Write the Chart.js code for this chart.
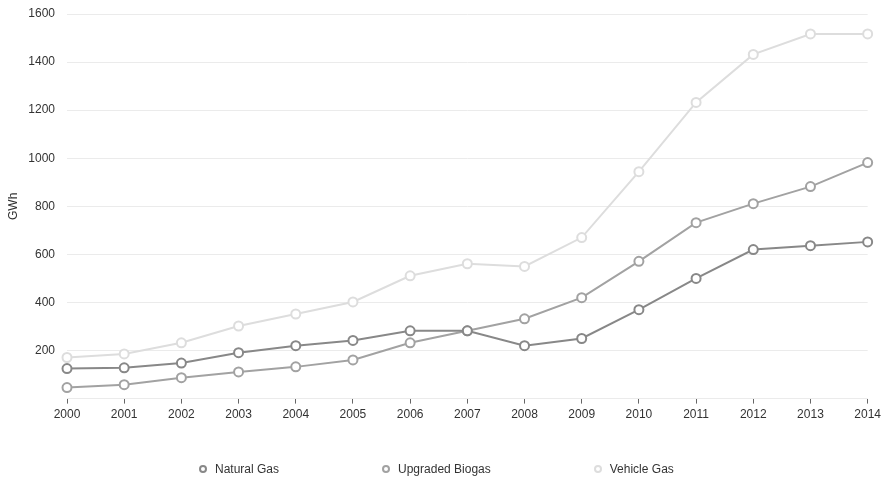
<!DOCTYPE html>
<html>
<head>
<meta charset="utf-8">
<script src="https://cdn.jsdelivr.net/npm/chart.js@4/dist/chart.umd.min.js"></script>
<style>
  html, body { margin: 0; padding: 0; background: #fff; }
  #wrap { position: relative; width: 885px; height: 480px; }
  #legend {
    position: absolute; left: 199px; top: 462px;
    display: flex; gap: 103px;
    font: 12px "Liberation Sans", Arial, sans-serif; color: #333;
  }
  #legend .item { display: flex; align-items: center; white-space: nowrap; }
  #legend .dot {
    width: 4px; height: 4px; border-radius: 50%;
    border: 2px solid #888; background: #fff; margin-right: 8px;
  }
</style>
</head>
<body>
<div id="wrap">
  <canvas id="gasChart"></canvas>
  <div id="legend"></div>
</div>
<script>
// values (GWh)
const years = ['2000','2001','2002','2003','2004','2005','2006','2007','2008','2009','2010','2011','2012','2013','2014'];
const naturalGas = [125, 128, 148, 191, 220, 242, 282, 282, 220, 250, 370, 500, 620, 636, 652];
const upgradedBiogas = [46, 58, 87, 111, 132, 161, 232, 282, 332, 420, 571, 732, 811, 882, 982];
const vehicleGas = [171, 186, 232, 302, 352, 402, 511, 561, 550, 670, 944, 1232, 1432, 1517, 1517];

Chart.defaults.font.family = '"Liberation Sans", Arial, sans-serif';
Chart.defaults.font.size = 12;
Chart.defaults.color = '#333';

function series(label, data, colour) {
  return {
    label: label,
    data: data,
    borderColor: colour,
    backgroundColor: '#fff',
    pointBackgroundColor: '#fff',
    pointBorderColor: colour,
    pointBorderWidth: 2,
    pointRadius: 4.5,
    borderWidth: 2,
    tension: 0,
    fill: false
  };
}

// legend as html under the canvas, items from the chart's own labels
const htmlLegend = {
  id: 'htmlLegend',
  afterUpdate(chart) {
    const box = document.getElementById('legend');
    box.innerHTML = '';
    const items = Chart.defaults.plugins.legend.labels.generateLabels(chart);
    items.forEach(it => {
      const row = document.createElement('div');
      row.className = 'item';
      const dot = document.createElement('span');
      dot.className = 'dot';
      dot.style.borderColor = it.strokeStyle;
      const txt = document.createElement('span');
      txt.textContent = it.text;
      row.appendChild(dot);
      row.appendChild(txt);
      box.appendChild(row);
    });
  }
};

new Chart('gasChart', {
  type: 'line',
  data: {
    labels: years,
    datasets: [
      series('Natural Gas', naturalGas, '#888888'),
      series('Upgraded Biogas', upgradedBiogas, '#a2a2a2'),
      series('Vehicle Gas', vehicleGas, '#dddddd')
    ]
  },
  plugins: [htmlLegend],
  options: {
    responsive: true,
    maintainAspectRatio: false,
    animation: false,
    layout: { padding: { top: 14, right: 14, left: 0, bottom: 54 } },
    plugins: {
      legend: { display: false },
      tooltip: { enabled: false }
    },
    scales: {
      x: {
        offset: false,
        grid: { drawOnChartArea: false, drawTicks: true, tickLength: 5, color: '#666' },
        border: { display: false },
        ticks: { padding: 4, maxRotation: 0, color: '#333' },
        afterFit(scale) { scale.paddingLeft = 0; }
      },
      y: {
        min: 0,
        max: 1600,
        grid: { color: '#ebebeb', drawTicks: false },
        border: { display: false },
        title: { display: true, text: 'GWh', color: '#333', font: { size: 12 }, padding: { top: 6, bottom: 0 } },
        ticks: {
          stepSize: 200,
          padding: 12,
          color: '#333',
          callback: function (v) { return v === 0 ? '' : v; }
        },
        afterFit(scale) { scale.width = 67; scale.paddingTop = 0; }
      }
    }
  }
});
</script>
</body>
</html>
